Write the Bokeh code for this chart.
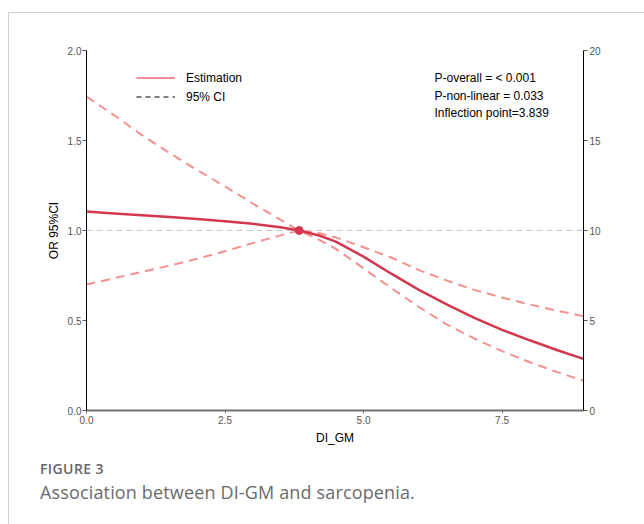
from bokeh.plotting import figure
from bokeh.layouts import column
from bokeh.models import (Range1d, LinearAxis, FixedTicker, PrintfTickFormatter,
                          Span, Label, Legend, LegendItem, Div)
from bokeh.embed import file_html
from bokeh.resources import INLINE

# ---- data ----
di_gm = [0, 0.5, 1, 1.5, 2, 2.5, 3, 3.5, 3.839, 4.2, 4.5, 5, 5.5, 6, 6.5, 7, 7.5, 8, 8.5, 8.97]
estimation = [1.105, 1.095, 1.085, 1.075, 1.064, 1.052, 1.037, 1.018, 1.0, 0.972, 0.938, 0.855,
              0.76, 0.67, 0.59, 0.515, 0.448, 0.39, 0.335, 0.287]
ci_upper = [1.744, 1.64, 1.53, 1.43, 1.335, 1.245, 1.15, 1.06, 1.0, 0.985, 0.962, 0.907,
            0.85, 0.78, 0.722, 0.67, 0.628, 0.589, 0.554, 0.524]
ci_lower = [0.70, 0.735, 0.77, 0.805, 0.843, 0.885, 0.93, 0.973, 1.0, 0.948, 0.898, 0.79,
            0.68, 0.575, 0.478, 0.40, 0.33, 0.268, 0.213, 0.165]
inflection_x = [3.839]
inflection_y = [1.0]
x_ticks = [0, 2.5, 5.0, 7.5]
y_ticks = [0, 0.5, 1.0, 1.5, 2.0]
y2_ticks = [0, 5, 10, 15, 20]
stats_text = ["P-overall = < 0.001", "P-non-linear = 0.033", "Inflection point=3.839"]
caption_title = "FIGURE 3"
caption_text = "Association between DI-GM and sarcopenia."

FONT = "Liberation Sans"
NAN = float("nan")

p = figure(width=635, height=437, output_backend="svg", toolbar_location=None,
           x_range=Range1d(0, 8.97), y_range=Range1d(0, 2.0),
           min_border_left=77, min_border_right=61, min_border_top=37, min_border_bottom=40)
p.outline_line_color = None
p.xgrid.visible = False
p.ygrid.visible = False
p.extra_y_ranges = {"right": Range1d(0, 20)}

# axes styling
xa = p.xaxis[0]
xa.ticker = FixedTicker(ticks=x_ticks)
xa.formatter = PrintfTickFormatter(format="%.1f")
xa.axis_label = "DI_GM"
xa.axis_line_color = "#707070"
xa.axis_line_width = 2
xa.major_tick_line_color = "#707070"
xa.major_tick_out = 3
xa.major_tick_in = 0
xa.minor_tick_line_color = None
xa.major_label_standoff = 2
xa.axis_label_standoff = 4

ya = p.yaxis[0]
ya.ticker = FixedTicker(ticks=y_ticks)
ya.formatter = PrintfTickFormatter(format="%.1f")
ya.axis_label = "OR 95%CI"
ya.axis_line_color = "black"
ya.major_tick_line_color = "#555555"
ya.major_tick_out = 4
ya.major_tick_in = 0
ya.minor_tick_line_color = None
ya.major_label_standoff = 1
ya.axis_label_standoff = 4

ra = LinearAxis(y_range_name="right", ticker=FixedTicker(ticks=y2_ticks),
                formatter=PrintfTickFormatter(format="%d"))
ra.axis_line_color = "black"
ra.major_tick_line_color = "#555555"
ra.major_tick_out = 4
ra.major_tick_in = 0
ra.minor_tick_line_color = None
ra.major_label_standoff = 2
p.add_layout(ra, "right")

for ax in (xa, ya, ra):
    ax.major_label_text_font = FONT
    ax.major_label_text_font_size = "10px"
    ax.major_label_text_color = "#555555"
    ax.axis_label_text_font = FONT
    ax.axis_label_text_font_size = "12px"
    ax.axis_label_text_font_style = "normal"
    ax.axis_label_text_color = "black"

# reference line at OR = 1 (behind the curves)
p.add_layout(Span(location=1.0, dimension="width", line_color="#c8c8c8",
                  line_dash="6 4", line_width=1, level="underlay"))

# CI and estimation curves
p.line(di_gm, ci_upper, line_color="#f4908f", line_width=2, line_dash="9 6")
p.line(di_gm, ci_lower, line_color="#f4908f", line_width=2, line_dash="9 6")
p.line(di_gm, estimation, line_color="#d4384f", line_width=2.5)
p.scatter(inflection_x, inflection_y, size=8, fill_color="#d4384f", line_color="#d4384f")

# legend with dedicated (invisible-data) renderers
r_est = p.line([NAN], [NAN], line_color="#e8687c", line_width=1.5)
r_ci = p.line([NAN], [NAN], line_color="black", line_width=1, line_dash="5 4")
legend = Legend(items=[LegendItem(label="Estimation", renderers=[r_est]),
                       LegendItem(label="95% CI", renderers=[r_ci])],
                location=(50, 306), orientation="vertical")
legend.padding = 0
legend.margin = 0
legend.spacing = 4
legend.glyph_width = 39
legend.glyph_height = 15
legend.label_height = 15
legend.label_standoff = 11
legend.label_text_font = FONT
legend.label_text_font_size = "12px"
legend.label_text_color = "black"
legend.border_line_color = None
legend.background_fill_alpha = 0
p.add_layout(legend)

# statistics annotation
stat_y = [1.846, 1.748, 1.651]
for t, yy in zip(stats_text, stat_y):
    p.add_layout(Label(x=6.28, y=yy, text=t, text_font=FONT, text_font_size="12px",
                       text_color="black", text_baseline="alphabetic"))

# caption
cap = Div(width=635, height=70, text=(
    f"<div style=\"font-family:'Open Sans';font-weight:600;font-size:14px;color:#666666;"
    f"letter-spacing:0.4px;line-height:16px;margin-top:6px;padding-left:26px\">{caption_title}</div>"
    f"<div style=\"font-family:'Open Sans';font-size:18px;color:#6b6b6b;letter-spacing:0.15px;"
    f"line-height:24px;margin-top:3px;padding-left:26px;white-space:nowrap\">{caption_text}</div>"))

layout = column(p, cap, spacing=0)
layout.styles = {"border-top": "1px solid #cfcfcf", "border-left": "1px solid #cfcfcf",
                 "margin-top": "12px", "margin-left": "8px"}

open("out.html", "w").write(file_html(layout, INLINE))
